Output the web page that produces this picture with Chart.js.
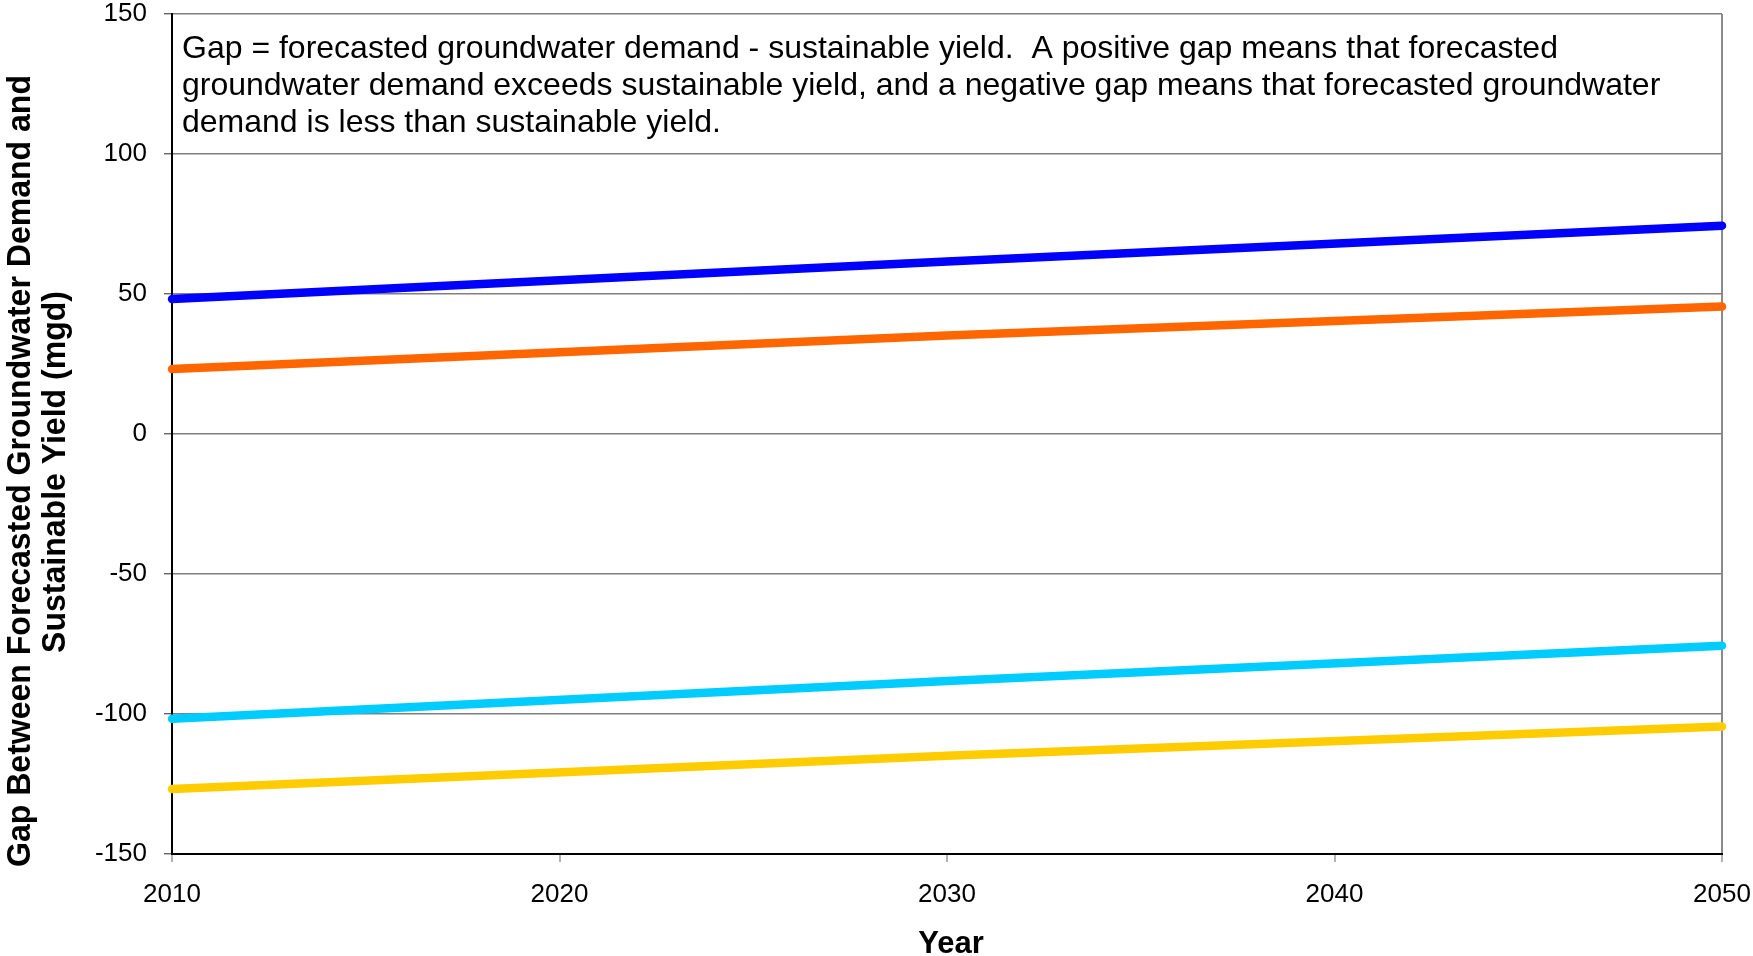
<!DOCTYPE html>
<html>
<head>
<meta charset="utf-8">
<script src="https://cdn.jsdelivr.net/npm/chart.js@4.4.0/dist/chart.umd.min.js"></script>
<style>
  html, body { margin: 0; padding: 0; background: #fff; }
  #wrap { width: 1753px; height: 956px; position: relative; }
</style>
</head>
<body>
<div id="wrap"><canvas id="gapChart"></canvas></div>
<script>
// values (mgd)
const years = [2010, 2030, 2050];
const seriesBlue = [48.2, 61.6, 74.4];
const seriesOrange = [23.2, 35.2, 45.5];
const seriesCyan = [-101.7, -88.2, -75.6];
const seriesYellow = [-126.8, -114.9, -104.5];

const yTicks = [-150, -100, -50, 0, 50, 100, 150];
const xTicks = [2010, 2020, 2030, 2040, 2050];

const yTitle = ['Gap Between Forecasted Groundwater Demand and', 'Sustainable Yield (mgd)'];
const xTitle = 'Year';
const noteLines = [
  'Gap = forecasted groundwater demand - sustainable yield.  A positive gap means that forecasted',
  'groundwater demand exceeds sustainable yield, and a negative gap means that forecasted groundwater',
  'demand is less than sustainable yield.'
];

const FONT = 'Arial, "Liberation Sans", Helvetica, sans-serif';

function toPoints(vals) {
  return vals.map((v, i) => ({ x: years[i], y: v }));
}

function lineSet(label, vals, color) {
  return {
    label: label,
    data: toPoints(vals),
    borderColor: color,
    backgroundColor: color,
    borderWidth: 8.5,
    borderCapStyle: 'round',
    pointRadius: 0,
    tension: 0,
    clip: false
  };
}

// text drawn on top: y title, x title and the note inside the plot
const textPlugin = {
  id: 'texts',
  afterDraw(chart) {
    const ctx = chart.ctx;
    const area = chart.chartArea;
    ctx.save();
    ctx.fillStyle = '#000';

    // y axis title, two rotated lines (squeezed a little like the original)
    ctx.font = 'bold 34px ' + FONT;
    ctx.textAlign = 'center';
    ctx.textBaseline = 'alphabetic';
    const sx = 792 / ctx.measureText(yTitle[0]).width;
    [[30, 471, yTitle[0]], [65, 472, yTitle[1]]].forEach(([bx, by, txt]) => {
      ctx.save();
      ctx.translate(bx, by);
      ctx.rotate(-Math.PI / 2);
      ctx.scale(sx, 1);
      ctx.fillText(txt, 0, 0);
      ctx.restore();
    });

    // x axis title
    ctx.font = 'bold 31px ' + FONT;
    ctx.fillText(xTitle, (area.left + area.right) / 2 + 4, 953);

    // note
    ctx.font = '32px ' + FONT;
    ctx.textAlign = 'left';
    noteLines.forEach((t, i) => {
      ctx.fillText(t, area.left + 10, 58 + i * 37);
    });
    ctx.restore();
  }
};

const ctx = document.getElementById('gapChart').getContext('2d');
const chart = new Chart(ctx, {
  type: 'line',
  data: {
    datasets: [
      lineSet('Series 1', seriesBlue, '#0000ff'),
      lineSet('Series 2', seriesOrange, '#ff6600'),
      lineSet('Series 3', seriesCyan, '#00ccff'),
      lineSet('Series 4', seriesYellow, '#ffcc00')
    ]
  },
  options: {
    responsive: true,
    maintainAspectRatio: false,
    animation: false,
    layout: { padding: { top: 14, right: 31, left: 0, bottom: 0 } },
    plugins: {
      legend: { display: false },
      tooltip: { enabled: false }
    },
    scales: {
      x: {
        type: 'linear',
        min: 2010,
        max: 2050,
        afterBuildTicks: scale => { scale.ticks = xTicks.map(v => ({ value: v })); },
        afterFit: scale => {
          scale.height = 102;
          scale.paddingLeft = 0;
          scale.paddingRight = 0;
        },
        ticks: {
          color: '#000',
          font: { family: FONT, size: 26 },
          padding: 17,
          maxRotation: 0,
          callback: v => String(v)
        },
        grid: {
          color: c => (c.tick && c.tick.value === 2050 ? '#8a8a8a' : 'rgba(0,0,0,0)'),
          lineWidth: 2,
          tickColor: '#666',
          tickLength: 8,
          tickWidth: 1
        },
        border: { color: '#000', width: 2 }
      },
      y: {
        min: -150,
        max: 150,
        afterBuildTicks: scale => { scale.ticks = yTicks.map(v => ({ value: v })); },
        afterFit: scale => {
          scale.width = 172;
          scale.paddingTop = 0;
          scale.paddingBottom = 0;
        },
        ticks: {
          color: '#000',
          font: { family: FONT, size: 26 },
          padding: 17
        },
        grid: {
          color: '#808080',
          lineWidth: 1.4,
          tickColor: '#666',
          tickLength: 8
        },
        border: { color: '#000', width: 2 }
      }
    }
  },
  plugins: [textPlugin]
});
</script>
</body>
</html>
